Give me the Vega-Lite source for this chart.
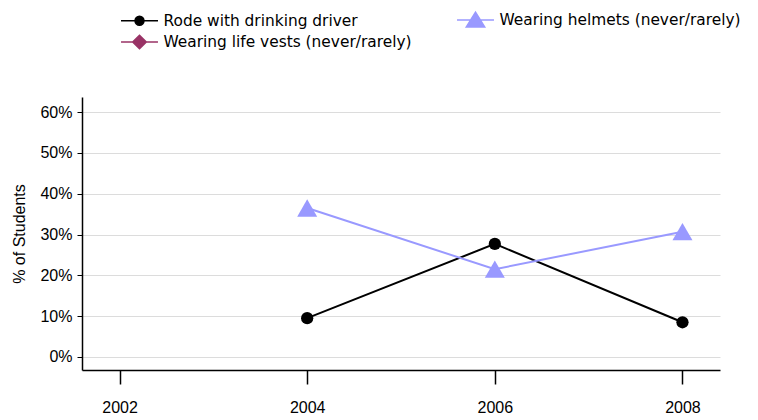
{
  "$schema": "https://vega.github.io/schema/vega-lite/v6.json",
  "width": 638,
  "height": 273,
  "autosize": {"type": "none"},
  "padding": {"left": 82, "top": 97, "right": 38, "bottom": 50},
  "background": "white",
  "config": {
    "view": {"stroke": null},
    "axis": {"labelFont": "Liberation Sans", "titleFont": "Liberation Sans", "labelColor": "#000000", "titleColor": "#000000", "domainColor": "#000000", "tickColor": "#000000"},
    "legend": {"title": null, "orient": "none", "legendX": 48.5, "legendY": -86, "columns": 2, "columnPadding": 41, "rowPadding": 2, "labelFont": "DejaVu Sans", "labelFontSize": 15.4, "labelColor": "#000000", "labelOffset": 15, "labelLimit": 0, "symbolSize": 256, "symbolStrokeWidth": 1.5, "symbolOpacity": 1, "padding": 0, "direction": "horizontal"}
  },
  "data": {
    "values": [
      {"year": 2004, "series": "Rode with drinking driver", "pct": 0.095},
      {"year": 2006, "series": "Rode with drinking driver", "pct": 0.277},
      {"year": 2008, "series": "Rode with drinking driver", "pct": 0.085},
      {"year": 2004, "series": "Wearing helmets (never/rarely)", "pct": 0.365},
      {"year": 2006, "series": "Wearing helmets (never/rarely)", "pct": 0.215},
      {"year": 2008, "series": "Wearing helmets (never/rarely)", "pct": 0.307}
    ]
  },
  "encoding": {
    "x": {
      "field": "year", "type": "quantitative",
      "scale": {"domain": [2001.6, 2008.4], "nice": false, "zero": false},
      "axis": {"title": null, "values": [2002, 2004, 2006, 2008], "format": "d", "grid": false, "tickSize": 14, "labelPadding": 15, "labelFontSize": 16, "domainWidth": 1.5, "tickWidth": 1.5}
    },
    "y": {
      "field": "pct", "type": "quantitative",
      "scale": {"domain": [-0.032, 0.637], "nice": false, "zero": false},
      "axis": {"title": "% of Students", "values": [0, 0.1, 0.2, 0.3, 0.4, 0.5, 0.6], "format": ".0%", "grid": true, "gridColor": "#dcdcdc", "gridWidth": 1, "tickSize": 5, "labelPadding": 5, "labelFontSize": 16, "titleFontSize": 16, "titleFontWeight": "normal", "titlePadding": 12, "domainWidth": 1.5}
    }
  },
  "layer": [
    {
      "transform": [{"filter": "datum.series === 'Rode with drinking driver'"}],
      "mark": {"type": "line", "color": "#000000", "strokeWidth": 2},
      "encoding": {}
    },
    {
      "transform": [{"filter": "datum.series === 'Rode with drinking driver'"}],
      "mark": {"type": "point", "shape": "circle", "filled": true, "color": "#000000", "size": 150, "opacity": 1},
      "encoding": {}
    },
    {
      "transform": [{"filter": "datum.series === 'Wearing helmets (never/rarely)'"}],
      "mark": {"type": "line", "color": "#9999ff", "strokeWidth": 2},
      "encoding": {}
    },
    {
      "transform": [{"filter": "datum.series === 'Wearing helmets (never/rarely)'"}],
      "mark": {"type": "point", "shape": "triangle-up", "filled": true, "color": "#9999ff", "size": 400, "opacity": 1},
      "encoding": {}
    },
    {
      "transform": [{"filter": "false"}],
      "mark": {"type": "point", "filled": true, "strokeWidth": 1.5, "opacity": 1},
      "encoding": {
        "fill": {
          "field": "series", "type": "nominal",
          "scale": {"domain": ["Rode with drinking driver", "Wearing helmets (never/rarely)", "Wearing life vests (never/rarely)"], "range": ["#000000", "#9999ff", "#993366"]},
          "legend": {}
        },
        "stroke": {
          "field": "series", "type": "nominal",
          "scale": {"domain": ["Rode with drinking driver", "Wearing helmets (never/rarely)", "Wearing life vests (never/rarely)"], "range": ["#000000", "#9999ff", "#993366"]},
          "legend": {}
        },
        "shape": {
          "field": "series", "type": "nominal",
          "scale": {"domain": ["Rode with drinking driver", "Wearing helmets (never/rarely)", "Wearing life vests (never/rarely)"], "range": [
            "M-2.31,0L2.31,0M-0.56,0A0.56,0.56 0 1,1 0.56,0A0.56,0.56 0 1,1 -0.56,0Z",
            "M-2.31,0L2.31,0M0,-1L1.15,0.85L-1.15,0.85Z",
            "M-2.31,0L2.31,0M0,-0.85L0.85,0L0,0.85L-0.85,0Z"
          ]},
          "legend": {}
        }
      }
    }
  ]
}
